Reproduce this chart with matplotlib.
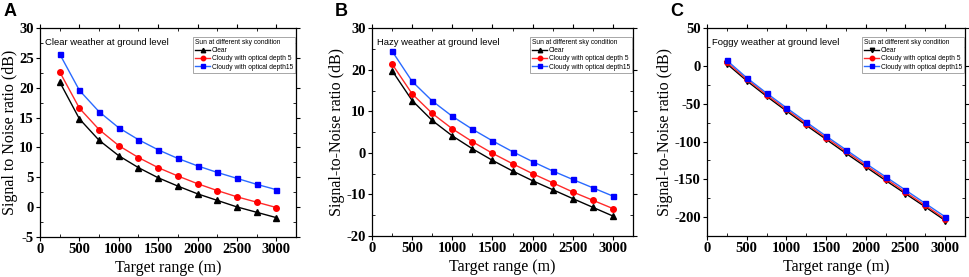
import numpy as np
import matplotlib
matplotlib.use("Agg")
import matplotlib.pyplot as plt
from matplotlib.ticker import MultipleLocator

# target range (m)
rng = [250, 500, 750, 1000, 1250, 1500, 1750, 2000, 2250, 2500, 2750, 3000]
xticks = [0, 500, 1000, 1500, 2000, 2500, 3000]

# A: clear weather
clear_a  = [21.0, 14.8, 11.2, 8.6, 6.6, 4.9, 3.5, 2.2, 1.1, 0.0, -0.9, -1.8]
cloud5_a = [22.7, 16.6, 13.0, 10.3, 8.3, 6.6, 5.2, 3.9, 2.75, 1.7, 0.8, -0.1]
cloud15_a = [25.7, 19.6, 16.0, 13.3, 11.3, 9.6, 8.15, 6.9, 5.8, 4.8, 3.8, 2.9]

# B: hazy weather
clear_b  = [19.8, 12.6, 7.8, 4.1, 1.0, -1.8, -4.35, -6.7, -8.85, -11.0, -13.1, -15.2]
cloud5_b = [21.4, 14.2, 9.5, 5.8, 2.7, -0.1, -2.6, -5.0, -7.2, -9.4, -11.4, -13.4]
cloud15_b = [24.5, 17.2, 12.5, 8.8, 5.7, 2.9, 0.3, -2.1, -4.35, -6.4, -8.4, -10.4]

# C: foggy weather
clear_c  = [3, -19.5, -40, -59.5, -78.5, -97, -115.5, -133.5, -151.5, -169, -186.5, -204.5]
cloud5_c = [5, -17.5, -38, -57.5, -76.5, -95, -113, -131.5, -149, -167, -184.5, -202.5]
cloud15_c = [7.5, -15.5, -35.8, -55.2, -74.2, -92.7, -110.8, -129, -146.6, -164.2, -181.9, -199.6]

yticks_a = [-5, 0, 5, 10, 15, 20, 25, 30]
yticks_b = [-20, -10, 0, 10, 20, 30]
yticks_c = [-200, -150, -100, -50, 0, 50]

labels = ["Clear", "Cloudy with optical depth 5", "Cloudy with optical depth15"]

panels = [
    dict(letter="A", note="Clear weather at ground level",
         ylabel="Signal to Noise ratio (dB)", ys=(clear_a, cloud5_a, cloud15_a),
         ylim=(-5, 30), yticks=yticks_a, minor=2.5, tri="^",
         pos=[0.0413, 0.1456, 0.2642, 0.7516]),
    dict(letter="B", note="Hazy weather at ground level",
         ylabel="Signal-to-Noise ratio (dB)", ys=(clear_b, cloud5_b, cloud15_b),
         ylim=(-20, 30), yticks=yticks_b, minor=5, tri="^",
         pos=[0.3839, 0.1480, 0.2694, 0.7500]),
    dict(letter="C", note="Foggy weather at ground level",
         ylabel="Signal-to-Noise ratio (dB)", ys=(clear_c, cloud5_c, cloud15_c),
         ylim=(-225, 50), yticks=yticks_c, minor=25, tri="v",
         pos=[0.7296, 0.1480, 0.2663, 0.7500]),
]

serif = "Liberation Serif"
sans = "Liberation Sans"

fig = plt.figure(figsize=(9.69, 2.77), dpi=100)

for p in panels:
    ax = fig.add_axes(p["pos"])
    c, r, b = p["ys"]
    ax.plot(rng, c, color="black", marker=p["tri"], ms=4, lw=1, label=labels[0])
    ax.plot(rng, r, color="#ff2a2a", marker="o", mfc="red", mec="red", ms=4, lw=1,
            label=labels[1])
    ax.plot(rng, b, color="#2a6aff", marker="s", mfc="blue", mec="blue", ms=3.6, lw=1,
            label=labels[2])

    ax.set_xlim(0, 3250)
    ax.set_ylim(*p["ylim"])
    ax.set_xticks(xticks, labels=[str(v) for v in xticks],
                  fontfamily=serif, fontweight="bold", fontsize=10.5)
    ax.set_yticks(p["yticks"], labels=[str(v) for v in p["yticks"]],
                  fontfamily=serif, fontweight="bold", fontsize=10.5)
    ax.xaxis.set_minor_locator(MultipleLocator(250))
    ax.yaxis.set_minor_locator(MultipleLocator(p["minor"]))
    ax.tick_params(which="major", direction="out", length=3, width=0.8,
                   top=True, right=True, pad=1.5)
    ax.tick_params(which="minor", direction="in", length=2, width=0.6,
                   top=True, right=True)
    for s in ax.spines.values():
        s.set_linewidth(0.9)

    ax.set_xlabel("Target range (m)", fontfamily=serif, fontsize=11.5, labelpad=3)
    ax.set_ylabel(p["ylabel"], fontfamily=serif, fontsize=11.5, labelpad=1)

    ax.text(0.02, 0.955, p["note"], transform=ax.transAxes, ha="left", va="top",
            fontfamily=sans, fontsize=6.8)

    leg = ax.legend(loc="upper right", bbox_to_anchor=(0.997, 0.96),
                    title="Sun at different sky condition",
                    prop={"family": sans, "size": 4.8},
                    title_fontproperties={"family": sans, "size": 4.8},
                    frameon=True, fancybox=False, framealpha=1, edgecolor="#999999",
                    borderpad=0.3, labelspacing=0.2, handlelength=2.2,
                    handletextpad=0.3, borderaxespad=0, markerscale=0.8)
    leg.get_frame().set_linewidth(0.6)
    leg._legend_box.align = "left"

    fig.text(p["pos"][0] - 0.038, 0.99, p["letter"], ha="left", va="top",
             fontfamily=sans, fontweight="bold", fontsize=13)

fig.savefig("out.png", dpi=100)
